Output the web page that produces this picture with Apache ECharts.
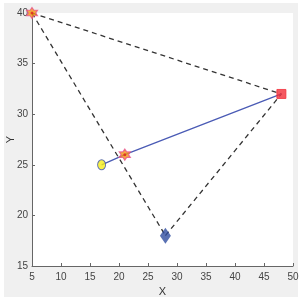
<!DOCTYPE html>
<html><head><meta charset="utf-8">
<script src="https://cdn.jsdelivr.net/npm/echarts@6/dist/echarts.min.js"></script>
<style>html,body{margin:0;padding:0;background:#fff}#c{width:301px;height:301px}</style>
</head><body><div id="c"></div>
<script>
var xTicks = [5,10,15,20,25,30,35,40,45,50];
var yTicks = [15,20,25,30,35,40];
var ptA = [5,40];      // orange hexagram
var ptB = [48,32];     // red square
var ptC = [28,18];     // blue diamond
var ptStart = [17,25]; // yellow circle
var ptMid = [21,26];   // orange marker on path
var dashedSegs = [[ptA,ptB],[ptA,ptC],[ptC,ptB]];
var blueLine = [ptStart, ptMid, ptB];

var chart = echarts.init(document.getElementById('c'));
var series = [];
dashedSegs.forEach(function(s){
  series.push({type:'line', data:s, symbol:'none', silent:true,
    lineStyle:{color:'#333', width:1.3, type:[5,4]}, z:2});
});
series.push({type:'line', data:blueLine, symbol:'none',
  lineStyle:{color:'#4a5bb5', width:1.3}, z:3});
series.push({type:'scatter', data:[ptStart], symbol:'circle', symbolSize:[8,10],
  itemStyle:{color:'#f5ee1a', borderColor:'#3a4fb0', borderWidth:1}, z:5});
series.push({type:'scatter', data:[ptA, ptMid], symbol:'path://M0,-10 L2.9,-5 L8.7,-5 L5.8,0 L8.7,5 L2.9,5 L0,10 L-2.9,5 L-8.7,5 L-5.8,0 L-8.7,-5 L-2.9,-5 Z',
  symbolSize:11, itemStyle:{color:'#f29a10', borderColor:'#e8508a', borderWidth:1.2}, z:5});
series.push({type:'scatter', data:[ptA, ptMid], symbol:'circle', symbolSize:3,
  itemStyle:{color:'#e02020'}, z:6});
series.push({type:'scatter', data:[ptB], symbol:'rect', symbolSize:9,
  itemStyle:{color:'#f2303a', borderColor:'#f2303a'}, z:5});
series.push({type:'scatter', data:[ptC], symbol:'diamond', symbolSize:[11,16],
  itemStyle:{color:'#2f4ea0'}, z:5});

chart.setOption({
  animation:false,
  backgroundColor:'#fff',
  graphic:[{type:'rect', shape:{x:4,y:3,width:294,height:294}, style:{fill:'#f0f0f0'}, z:-10, silent:true}],
  grid:{left:32,right:8,top:13,bottom:35,show:true,backgroundColor:'#fff',borderWidth:0,
    containLabel:false, outerBoundsMode:'none'},
  xAxis:{type:'value', min:5, max:50, interval:5, name:'X', nameLocation:'middle', nameGap:20, nameMoveOverlap:false,
    nameTextStyle:{color:'#333', fontSize:11, fontFamily:'Liberation Sans'},
    axisLine:{show:true, onZero:false, lineStyle:{color:'#666'}},
    axisTick:{show:true, inside:true, length:3, lineStyle:{color:'#666'}},
    axisLabel:{color:'#444', fontSize:10, margin:6, fontFamily:'Liberation Sans', hideOverlap:false,
      formatter:function(v){return xTicks.indexOf(v)>=0?String(v):'';}},
    splitLine:{show:false}},
  yAxis:{type:'value', min:15, max:40, interval:5, name:'Y', nameLocation:'middle', nameGap:16, nameRotate:90, nameMoveOverlap:false,
    nameTextStyle:{color:'#333', fontSize:11, fontFamily:'Liberation Sans'},
    axisLine:{show:true, onZero:false, lineStyle:{color:'#666'}},
    axisTick:{show:true, inside:true, length:3, lineStyle:{color:'#666'}},
    axisLabel:{color:'#444', fontSize:10, margin:4, fontFamily:'Liberation Sans', hideOverlap:false,
      formatter:function(v){return yTicks.indexOf(v)>=0?String(v):'';}},
    splitLine:{show:false}},
  series:series
});
</script></body></html>
